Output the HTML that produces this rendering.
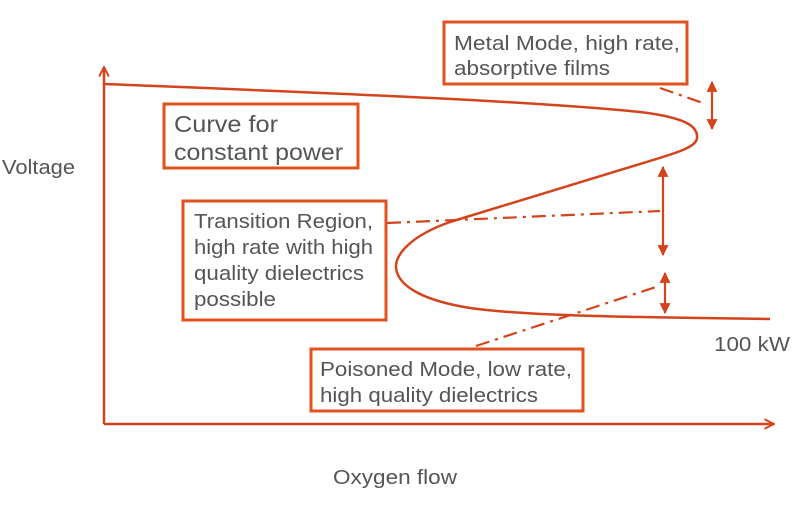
<!DOCTYPE html>
<html><head><style>
html,body{margin:0;padding:0;background:#fff;}
svg{display:block;}
text{font-family:"Liberation Sans",sans-serif;fill:#555;}
</style></head><body>
<svg width="792" height="509" viewBox="0 0 792 509" xmlns="http://www.w3.org/2000/svg">
<defs>
<marker id="ah" viewBox="0 0 10 10" refX="9" refY="5" markerWidth="12" markerHeight="11" orient="auto-start-reverse" markerUnits="userSpaceOnUse">
<path d="M0,0 L10,5 L0,10 z" fill="#d4441c"/></marker>
<marker id="oa" viewBox="0 0 10 10" refX="9" refY="5" markerWidth="12" markerHeight="12" orient="auto" markerUnits="userSpaceOnUse">
<path d="M1,1 L9,5 L1,9" fill="none" stroke="#d4441c" stroke-width="1.6"/></marker>
</defs>
<g stroke="#d4441c" fill="none">
<line x1="104" y1="424" x2="104" y2="67" stroke-width="2.5" marker-end="url(#oa)"/>
<line x1="104" y1="424" x2="774" y2="424" stroke-width="2.5" marker-end="url(#oa)"/>
<path d="M105,84 C300,92 520,100 640,112 C690,118 698,128 697,138 C696,147 680,152 640,164 L450,222 C410,236 395,255 396,268 C398,285 420,300 470,308 C520,315 600,317 770,319" stroke-width="2.5"/>
<line x1="712" y1="82" x2="712" y2="129" stroke-width="2.2" marker-start="url(#ah)" marker-end="url(#ah)"/>
<line x1="663" y1="167" x2="663" y2="255" stroke-width="2.2" marker-start="url(#ah)" marker-end="url(#ah)"/>
<line x1="665" y1="273" x2="665" y2="313" stroke-width="2.2" marker-start="url(#ah)" marker-end="url(#ah)"/>
<g stroke-width="2.2" stroke-dasharray="14,6,3,6">
<line x1="660" y1="88" x2="703" y2="103"/>
<line x1="387" y1="223" x2="660" y2="211"/>
<line x1="476" y1="346" x2="656" y2="287"/>
</g>
<g stroke="#e0521f" stroke-width="3" fill="#fff">
<rect x="444" y="22" width="243" height="62"/>
<rect x="164" y="104" width="194" height="64"/>
<rect x="183" y="201" width="203" height="119"/>
<rect x="311" y="349" width="272" height="62"/>
</g>
</g>
<g font-size="20" lengthAdjust="spacingAndGlyphs">
<text x="454" y="50" textLength="226" lengthAdjust="spacingAndGlyphs">Metal Mode, high rate,</text>
<text x="454" y="75" textLength="156" lengthAdjust="spacingAndGlyphs">absorptive films</text>
<text x="174" y="132" font-size="23" textLength="104" lengthAdjust="spacingAndGlyphs">Curve for</text>
<text x="174" y="160" font-size="23" textLength="169" lengthAdjust="spacingAndGlyphs">constant power</text>
<text x="194" y="228" textLength="179" lengthAdjust="spacingAndGlyphs">Transition Region,</text>
<text x="194" y="254" textLength="179" lengthAdjust="spacingAndGlyphs">high rate with high</text>
<text x="194" y="280" textLength="170" lengthAdjust="spacingAndGlyphs">quality dielectrics</text>
<text x="194" y="306" textLength="82" lengthAdjust="spacingAndGlyphs">possible</text>
<text x="320" y="376" textLength="252" lengthAdjust="spacingAndGlyphs">Poisoned Mode, low rate,</text>
<text x="320" y="402" textLength="218" lengthAdjust="spacingAndGlyphs">high quality dielectrics</text>
<text x="714" y="351" textLength="76" lengthAdjust="spacingAndGlyphs">100 kW</text>
<text x="2" y="174" textLength="73" lengthAdjust="spacingAndGlyphs">Voltage</text>
<text x="333" y="484" textLength="124" lengthAdjust="spacingAndGlyphs">Oxygen flow</text>
</g>
</svg>
</body></html>
